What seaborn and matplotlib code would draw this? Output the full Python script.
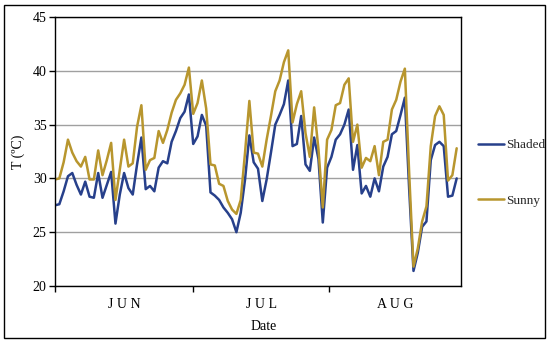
import numpy as np
import pandas as pd
import matplotlib
matplotlib.use("Agg")
import matplotlib.pyplot as plt
import seaborn as sns

# ---- data ----
shaded = [27.5, 27.6, 28.8, 30.2, 30.5, 29.4, 28.5, 29.7, 28.3, 28.2,
          30.5, 28.2, 29.4, 30.6, 25.8, 28.5, 30.5, 29.1, 28.5, 31.3,
          33.8, 29.0, 29.3, 28.8, 31.0, 31.6, 31.4, 33.4, 34.4, 35.6,
          36.2, 37.8, 33.2, 33.9, 35.9, 34.9, 28.7, 28.4, 28.0, 27.3,
          26.8, 26.2, 25.0, 26.8, 29.9, 34.0, 31.5, 30.9, 27.9, 29.9,
          32.4, 35.0, 35.9, 36.9, 39.1, 33.0, 33.2, 35.8, 31.3, 30.7,
          33.8, 31.8, 25.9, 31.0, 32.0, 33.6, 34.1, 35.0, 36.4, 30.8,
          33.1, 28.6, 29.3, 28.3, 30.0, 28.8, 31.1, 32.0, 34.1, 34.4,
          35.9, 37.5, 29.0, 21.4, 23.1, 25.5, 26.0, 31.7, 33.1, 33.4,
          33.0, 28.3, 28.4, 30.0]
sunny = [29.9, 30.0, 31.5, 33.6, 32.4, 31.6, 31.1, 32.0, 29.9, 29.9,
         32.6, 30.3, 31.7, 33.3, 28.0, 30.8, 33.6, 31.1, 31.4, 34.8,
         36.8, 30.8, 31.7, 31.9, 34.4, 33.3, 34.5, 36.1, 37.3, 37.9,
         38.7, 40.3, 36.0, 37.0, 39.1, 36.5, 31.3, 31.2, 29.5, 29.3,
         27.9, 27.1, 26.7, 28.0, 32.4, 37.2, 32.4, 32.3, 31.1, 33.6,
         35.8, 38.1, 39.1, 40.8, 41.9, 35.2, 36.9, 38.1, 34.2, 32.0,
         36.6, 32.7, 27.3, 33.6, 34.5, 36.8, 37.0, 38.7, 39.3, 33.4,
         35.0, 31.0, 31.9, 31.6, 33.0, 30.3, 33.4, 33.6, 36.4, 37.3,
         39.0, 40.2, 30.5, 21.8, 23.5, 26.0, 27.4, 33.0, 35.8, 36.7,
         35.9, 29.8, 30.3, 32.8]
series_names = ["Shaded", "Sunny"]
month_labels = ["J U N", "J U L", "A U G"]
y_ticks = [20, 25, 30, 35, 40, 45]

days = np.arange(len(shaded))
df = pd.DataFrame({
    "day": np.concatenate([days, days]),
    "T": shaded + sunny,
    "Series": [series_names[0]] * len(shaded) + [series_names[1]] * len(sunny),
})

sns.set_theme(style="white")
plt.rcParams["font.family"] = ["Liberation Serif", "DejaVu Serif"]

fig = plt.figure(figsize=(5.5, 3.43), dpi=100)
ax = fig.add_axes([55 / 550, 1 - 286 / 343, 406 / 550, 269 / 343])

sns.lineplot(data=df, x="day", y="T", hue="Series",
             palette={"Shaded": "#27408B", "Sunny": "#B8962E"},
             linewidth=1.8, ax=ax)

ax.set_xlim(0, 94)
ax.set_ylim(20, 45)
ax.set_yticks(y_ticks)
ax.set_yticklabels([str(v) for v in y_ticks], fontsize=10, color="black")
ax.yaxis.grid(True, color="#a0a0a0", linewidth=1)
ax.xaxis.grid(False)
ax.set_axisbelow(True)

# month boundaries and labels
bounds = [0, 32, 63.4, 94]
ax.set_xticks(bounds[:3])
ax.set_xticklabels([])
mids = [(bounds[k] + bounds[k + 1]) / 2 for k in range(3)]
ax.set_xticks(mids, minor=True)
ax.set_xticklabels(month_labels, minor=True, fontsize=10, color="black")
ax.tick_params(axis="x", which="major", direction="out", length=4, width=1, color="black", bottom=True)
ax.tick_params(axis="x", which="minor", length=0, pad=9, bottom=True)
ax.tick_params(axis="y", direction="out", length=4, width=1, color="black", left=True, pad=2)

for s in ax.spines.values():
    s.set_visible(True)
    s.set_color("black")
    s.set_linewidth(1)

ax.set_xlabel("Date", fontsize=10, color="black")
ax.xaxis.set_label_coords((264 - 55) / 406, -0.125)
ax.set_ylabel("T (ºC)", fontsize=10, color="black")
ax.yaxis.set_label_coords((25 - 55) / 406, 0.5)

h, l = ax.get_legend_handles_labels()
ax.legend(h, l, loc="center left", bbox_to_anchor=(471 / 550, 1 - 173 / 343),
          bbox_transform=fig.transFigure, frameon=False, fontsize=9.5,
          labelspacing=3.3, handlelength=2.0, handletextpad=0.15, borderpad=0)

# outer frame
fig.add_artist(plt.Rectangle((4 / 550, 1 - 338 / 343), 541 / 550, 333 / 343,
                             transform=fig.transFigure, fill=False,
                             edgecolor="black", linewidth=1))

fig.savefig("out.png", dpi=100)
